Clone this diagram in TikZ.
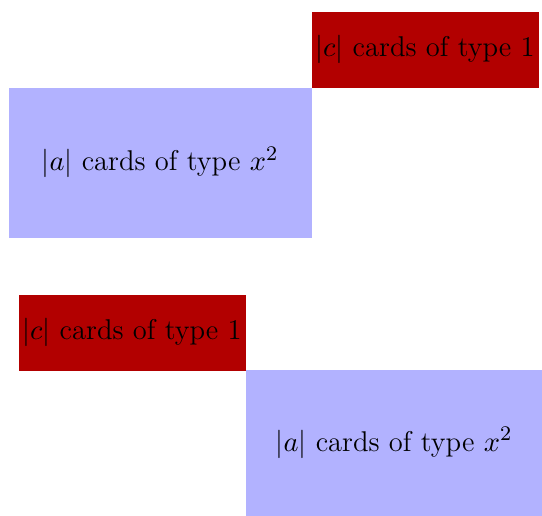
\documentclass[tikz,border=0pt]{standalone}
\usepackage{tikz}
\begin{document}
\begin{tikzpicture}[x=0.385pt,y=-0.385pt,
  every node/.style={font=\fontsize{11}{13}\selectfont},
  redbox/.style={fill=red!70!black,inner sep=0pt,anchor=north west},
  bluebox/.style={fill=blue!30,inner sep=0pt,anchor=north west}]
\useasboundingbox (0,0) rectangle (542,516);
\node[redbox,minimum width=227*0.385pt,minimum height=76*0.385pt] (c1) at (311,11) {$|c|$ cards of type 1};
\node[bluebox,minimum width=303*0.385pt,minimum height=150*0.385pt] (a1) at (8,87) {$|a|$ cards of type $x^2$};
\node[redbox,minimum width=227*0.385pt,minimum height=76*0.385pt] (c2) at (18,294) {$|c|$ cards of type 1};
\node[bluebox,minimum width=297*0.385pt,minimum height=147*0.385pt] (a2) at (245,369) {$|a|$ cards of type $x^2$};
\end{tikzpicture}
\end{document}
